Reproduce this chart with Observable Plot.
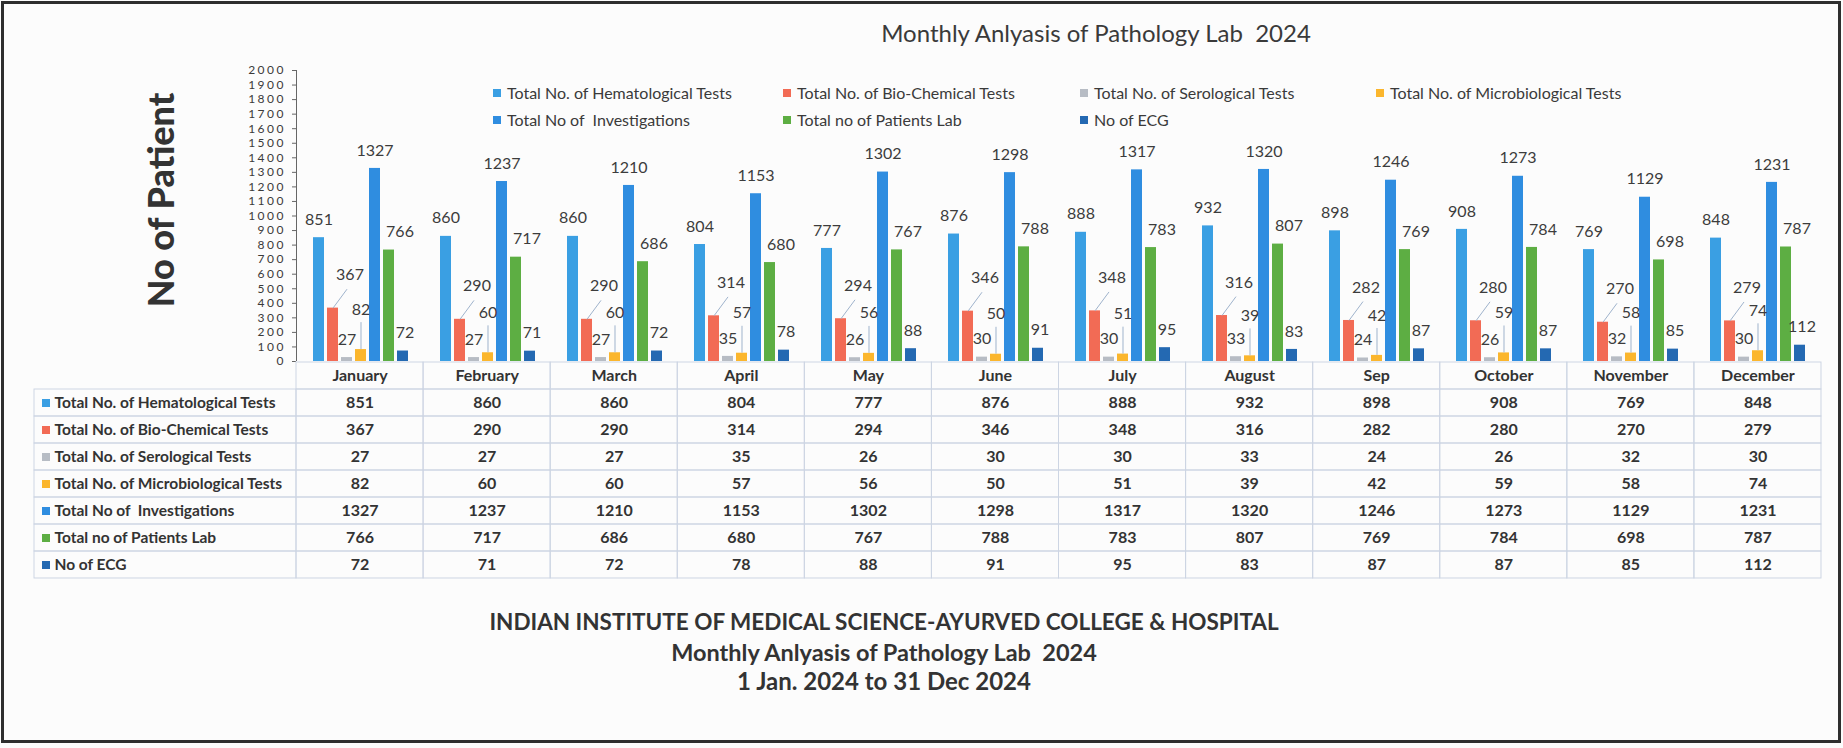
<!DOCTYPE html>
<html><head><meta charset="utf-8">
<script src="https://cdn.jsdelivr.net/npm/d3@7"></script>
<script src="https://cdn.jsdelivr.net/npm/@observablehq/plot@0.6"></script>
<style>
html,body{margin:0;padding:0;background:#fcfcfc;}
#page{position:relative;width:1843px;height:748px;overflow:hidden;font-family:Lato,"Open Sans",sans-serif;color:#3a3a3a;}
#border{position:absolute;left:1px;top:1px;width:1840px;height:742px;border:3px solid #2e2e2e;box-sizing:border-box;}
.abs{position:absolute;white-space:pre;}
#title{left:696px;width:800px;top:19px;line-height:28px;text-align:center;font-size:24px;color:#3a3a3a;}
#ylabel{left:160px;top:200px;transform:translate(-50%,-50%) rotate(-90deg);font-size:36px;font-weight:900;color:#333;line-height:40px;}
.leg{font-size:16px;line-height:20px;color:#3a3a3a;display:flex;align-items:center;}
.leg span.sw{display:inline-block;width:8px;height:8px;margin-right:6px;}
.foot{left:384px;width:1000px;text-align:center;font-weight:bold;color:#333;line-height:30px;}
svg text{white-space:pre;}
#axis svg text{letter-spacing:2.5px;}
</style></head>
<body><div id="page">
<div id="title" class="abs">Monthly Anlyasis of Pathology Lab  2024</div>
<div id="ylabel" class="abs">No of Patient</div>
<div id="legend"></div>
<div id="chart" class="abs" style="left:0;top:0;"></div>
<div id="axis" class="abs" style="left:0;top:0;"></div>
<div id="table" class="abs" style="left:0;top:361px;"></div>
<div class="abs foot" style="top:607px;font-size:22.5px;">INDIAN INSTITUTE OF MEDICAL SCIENCE-AYURVED COLLEGE &amp; HOSPITAL</div>
<div class="abs foot" style="top:637px;font-size:23.5px;">Monthly Anlyasis of Pathology Lab  2024</div>
<div class="abs foot" style="top:666px;font-size:24px;">1 Jan. 2024 to 31 Dec 2024</div>
<div id="border"></div>
</div>
<script>
// ---- data ----
const months = ["January","February","March","April","May","June","July","August","Sep","October","November","December"];
const seriesNames = [
  "Total No. of Hematological Tests",
  "Total No. of Bio-Chemical Tests",
  "Total No. of Serological Tests",
  "Total No. of Microbiological Tests",
  "Total No of  Investigations",
  "Total no of Patients Lab",
  "No of ECG"
];
const hematological = [851,860,860,804,777,876,888,932,898,908,769,848];
const bioChemical   = [367,290,290,314,294,346,348,316,282,280,270,279];
const serological   = [27,27,27,35,26,30,30,33,24,26,32,30];
const microbiological = [82,60,60,57,56,50,51,39,42,59,58,74];
const investigations = [1327,1237,1210,1153,1302,1298,1317,1320,1246,1273,1129,1231];
const patientsLab   = [766,717,686,680,767,788,783,807,769,784,698,787];
const ecg           = [72,71,72,78,88,91,95,83,87,87,85,112];
const yTicks = d3.range(0, 2001, 100);

// ---- styles ----
const colors = ["#3a9fe3","#f26b55","#b7bcc4","#fbb62d","#2f8de0","#5dae43","#2469b2"];
const labelOffsets = [
  {dx:0, dy:-18}, {dx:17, dy:-33}, {dx:0, dy:-18}, {dx:0, dy:-40},
  {dx:0, dy:-18}, {dx:11, dy:-18}, {dx:2, dy:-18}
];
const leaderColor = "#9fb3cc";
const gridColor = "#cdd5e3";

const seriesValues = [hematological, bioChemical, serological, microbiological, investigations, patientsLab, ecg];
const data = months.flatMap((m, i) => seriesNames.map((s, k) => ({month: m, mi: i, series: s, k, value: seriesValues[k][i]})));

// ---- legend ----
const legendCols = [493, 783, 1080, 1376];
const legendRows = [93, 120];
const legendEl = document.getElementById("legend");
seriesNames.forEach((s, k) => {
  const row = k < 4 ? 0 : 1;
  const col = k < 4 ? k : k - 4;
  const d = document.createElement("div");
  d.className = "abs leg";
  d.style.left = legendCols[col] + "px";
  d.style.top = (legendRows[row] - 10) + "px";
  d.innerHTML = `<span class="sw" style="background:${colors[k]}"></span>`;
  d.appendChild(document.createTextNode(s));
  legendEl.appendChild(d);
});

const baseStyle = {fontFamily: "Lato, 'Open Sans', sans-serif", fontSize: "16px", background: "transparent", color: "#3a3a3a", overflow: "visible"};

// ---- bar chart ----
const marks = [
  Plot.barY(data, {fx: "month", x: "series", y: "value", fill: "series"}),
  Plot.link(data.filter(d => d.k === 1), {fx: "month", x1: "series", x2: () => seriesNames[2], y1: "value", y2: d => d.value + 130, stroke: leaderColor, strokeWidth: 1}),
  Plot.ruleX(data.filter(d => d.k === 3), {fx: "month", x: "series", y1: "value", y2: d => d.value + 185, stroke: leaderColor, strokeWidth: 1})
];
seriesNames.forEach((s, k) => {
  marks.push(Plot.text(data.filter(d => d.k === k), {
    fx: "month", x: "series", y: "value", text: d => String(d.value),
    dx: labelOffsets[k].dx, dy: labelOffsets[k].dy, fill: "#3c3c3c", fontSize: 16
  }));
});
const chart = Plot.plot({
  width: 1843, height: 365,
  marginTop: 70, marginBottom: 4, marginLeft: 296, marginRight: 22,
  style: baseStyle,
  fx: {domain: months, padding: 0, axis: null},
  x: {domain: seriesNames, paddingInner: 0.2, paddingOuter: 0.87, axis: null},
  y: {domain: [0, 2000], axis: null},
  color: {domain: seriesNames, range: colors},
  marks
});
document.getElementById("chart").appendChild(chart);

// ---- y axis ----
const axis = Plot.plot({
  width: 300, height: 365,
  marginTop: 70, marginBottom: 4, marginLeft: 296, marginRight: 4,
  style: baseStyle,
  x: {domain: [0, 1], axis: null},
  y: {domain: [0, 2000], axis: null},
  marks: [
    Plot.axisY(yTicks, {tickSize: 4, tickPadding: 6.5, tickFormat: d => String(d), fontSize: 12, fill: "#3a3a3a", stroke: "#666"}),
    Plot.ruleX([0], {stroke: "#666"})
  ]
});
document.getElementById("axis").appendChild(axis);

// ---- data table ----
const rows = ["header", ...seriesNames];
const labelWidth = 262 / ((1821 - 296) / 12);
const cells = rows.flatMap(r => months.map((m, i) => ({row: r, i})));
const tableVals = data.map(d => ({row: d.series, i: d.mi, value: d.value}));
const table = Plot.plot({
  width: 1843, height: 217,
  marginTop: 0, marginBottom: 0, marginLeft: 34, marginRight: 22,
  style: baseStyle,
  x: {domain: [-labelWidth, 12], axis: null},
  y: {domain: rows, padding: 0, axis: null},
  color: {domain: seriesNames, range: colors},
  marks: [
    Plot.barX(cells, {x1: d => d.i, x2: d => d.i + 1, y: "row", fill: "none", stroke: gridColor, strokeWidth: 1}),
    Plot.barX(seriesNames, {x1: () => -labelWidth, x2: () => 0, y: d => d, fill: "none", stroke: gridColor, strokeWidth: 1}),
    Plot.text(months, {x: (d, i) => i + 0.5, y: () => "header", text: d => d, fontWeight: "bold", fontSize: 16, fill: "#333"}),
    Plot.text(tableVals, {x: d => d.i + 0.5, y: "row", text: d => String(d.value), fontWeight: "bold", fontSize: 16, fill: "#333"}),
    Plot.dot(seriesNames, {x: () => -labelWidth, y: d => d, dx: 11.5, symbol: "square", r: 4.5, fill: d => d}),
    Plot.text(seriesNames, {x: () => -labelWidth, y: d => d, dx: 20, text: d => d, textAnchor: "start", fontWeight: "bold", fontSize: 15.5, fill: "#333"})
  ]
});
document.getElementById("table").appendChild(table);
</script>
</body></html>
